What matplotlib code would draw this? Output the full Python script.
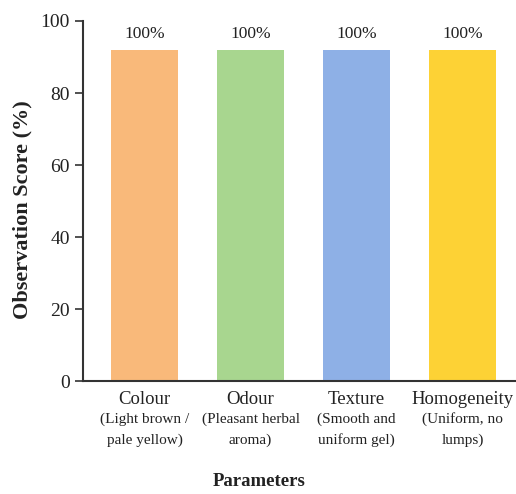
import matplotlib.pyplot as plt

# data
parametri = ['Colour', 'Odour', 'Texture', 'Homogeneity']
opisi = ['(Light brown /\npale yellow)', '(Pleasant herbal\naroma)',
         '(Smooth and\nuniform gel)', '(Uniform, no\nlumps)']
visine = [92, 92, 92, 92]
oznake = ['100%', '100%', '100%', '100%']
boje = ['#F9B97A', '#A8D68F', '#8EB0E6', '#FDD235']

plt.rcParams['font.family'] = 'Liberation Serif'

fig = plt.figure(figsize=(5.16, 4.94), dpi=100)
ax = fig.add_axes([0.161, 0.2287, 0.839, 0.7288])

x = range(len(parametri))
ax.bar(x, visine, width=0.64, color=boje, zorder=2)
for i, (v, t) in enumerate(zip(visine, oznake)):
    ax.text(i, v + 2.2, t, ha='center', va='bottom', fontsize=12.5, color='#222222')

ax.set_xlim(-0.58, 3.505)
ax.set_ylim(0, 100)
ax.set_yticks([0, 20, 40, 60, 80, 100])
ax.tick_params(axis='y', labelsize=14, length=6, width=1.2, color='#333333', labelcolor='#222222')
ax.set_xticks([])

for s in ['top', 'right']:
    ax.spines[s].set_visible(False)
for s in ['left', 'bottom']:
    ax.spines[s].set_linewidth(1.5)
    ax.spines[s].set_color('#333333')

tr = ax.get_xaxis_transform()
for i, (p, o) in enumerate(zip(parametri, opisi)):
    ax.text(i, -0.028, p, transform=tr, ha='center', va='top', fontsize=13.5, color='#222222')
    ax.text(i, -0.087, o, transform=tr, ha='center', va='top', fontsize=11,
            color='#222222', linespacing=1.7)

fig.text(0.043, 0.575, 'Observation Score (%)', rotation=90, ha='center', va='center',
         fontsize=16, fontweight='bold', color='#222222')
fig.text(0.503, 0.025, 'Parameters', ha='center', va='center', fontsize=13.5,
         fontweight='bold', color='#222222')

plt.savefig('out.png')
